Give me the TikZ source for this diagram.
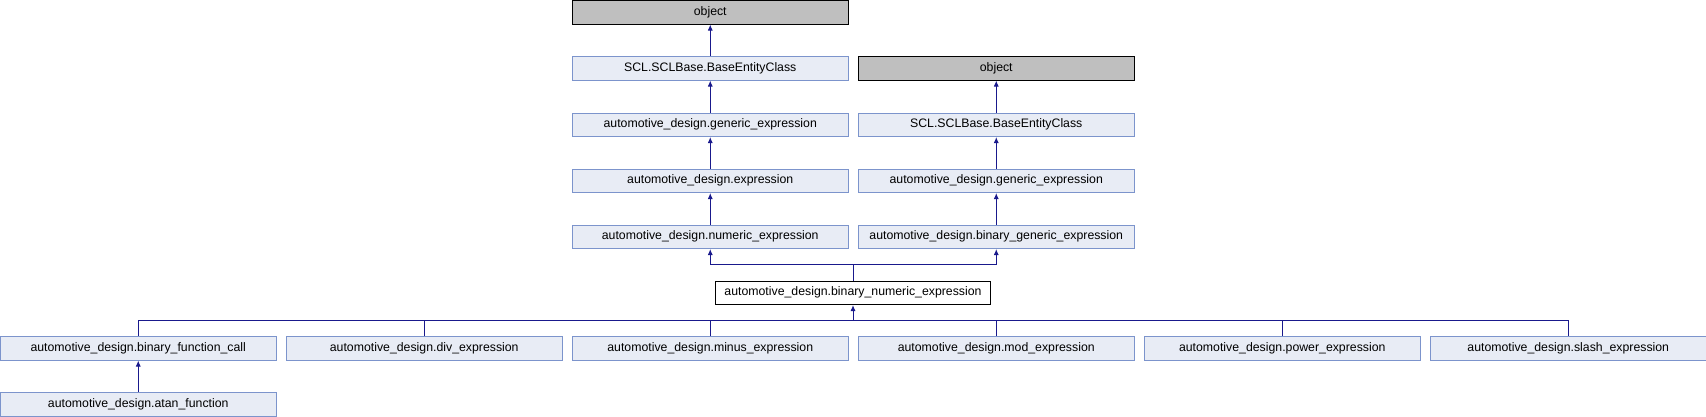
\documentclass[tikz,border=0pt]{standalone}
\usepackage{fontspec}
\setmainfont{Liberation Sans}
\usetikzlibrary{arrows.meta}
\definecolor{boxfill}{RGB}{232,236,245}
\definecolor{boxline}{RGB}{124,148,204}
\definecolor{objfill}{RGB}{191,191,191}
\definecolor{edgecol}{RGB}{25,25,140}
\tikzset{
  cls/.style={draw=boxline, fill=boxfill, line width=1pt, rectangle, inner sep=0pt,
    minimum width=275.5pt, minimum height=23.5pt, anchor=north west,
    font=\fontsize{12.3}{14}\selectfont},
  obj/.style={cls, draw=black, fill=objfill},
  cur/.style={cls, draw=black, fill=white},
  edge/.style={draw=edgecol, line width=1pt},
  arr/.style={edge, -{Latex[length=6pt,width=5pt]}}
}
\begin{document}
\begin{tikzpicture}[x=1pt,y=-1pt]
\useasboundingbox (0,0) rectangle (1706,416);
% left column
\node[obj] (o1) at (572,0) {object};
\node[cls] (s1) at (572,56) {SCL.SCLBase.BaseEntityClass};
\node[cls] (g1) at (572,112.5) {automotive\_design.generic\_expression};
\node[cls] (ex) at (572,168.5) {automotive\_design.expression};
\node[cls] (num) at (572,224.5) {automotive\_design.numeric\_expression};
% right column
\node[obj] (o2) at (858,56) {object};
\node[cls] (s2) at (858,112.5) {SCL.SCLBase.BaseEntityClass};
\node[cls] (g2) at (858,168.5) {automotive\_design.generic\_expression};
\node[cls] (bge) at (858,224.5) {automotive\_design.binary\_generic\_expression};
% current
\node[cur] (bn) at (714.75,280.5) {automotive\_design.binary\_numeric\_expression};
% bottom row
\node[cls] (bfc) at (0,336) {automotive\_design.binary\_function\_call};
\node[cls] (div) at (286,336) {automotive\_design.div\_expression};
\node[cls] (min) at (572,336) {automotive\_design.minus\_expression};
\node[cls] (mod) at (858,336) {automotive\_design.mod\_expression};
\node[cls] (pow) at (1144,336) {automotive\_design.power\_expression};
\node[cls] (sla) at (1430,336) {automotive\_design.slash\_expression};
\node[cls] (atan) at (0,392) {automotive\_design.atan\_function};
% edges
\draw[arr] (s1.north) -- (o1.south);
\draw[arr] (g1.north) -- (s1.south);
\draw[arr] (ex.north) -- (g1.south);
\draw[arr] (num.north) -- (ex.south);
\draw[arr] (s2.north) -- (o2.south);
\draw[arr] (g2.north) -- (s2.south);
\draw[arr] (bge.north) -- (g2.south);
\coordinate (j1) at (bn.north |- 0,264.5);
\draw[edge] (bn.north) -- (j1);
\draw[arr] (j1) -| (num.south);
\draw[arr] (j1) -| (bge.south);
\coordinate (j2) at (bn.south |- 0,320.5);
\draw[arr] (j2) -- (bn.south);
\foreach \c in {bfc,div,min,mod,pow,sla}{
  \draw[edge] (\c.north) |- (j2);
}
\draw[arr] (atan.north) -- (bfc.south);
\end{tikzpicture}
\end{document}
